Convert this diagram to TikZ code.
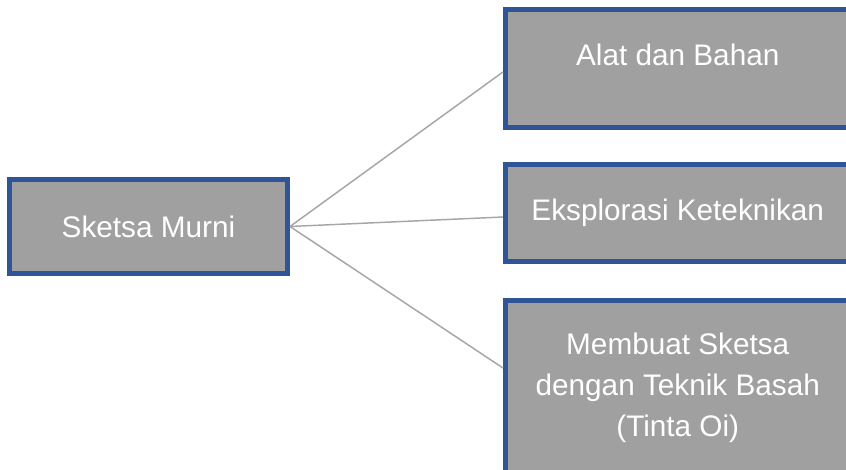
\documentclass[tikz,border=0pt]{standalone}
\usepackage{fontspec}
\setmainfont{Liberation Sans}
\usepackage{tikz}

\definecolor{boxfill}{HTML}{A0A0A0}
\definecolor{boxline}{HTML}{2F5597}
\definecolor{linkgray}{HTML}{A6A6A6}

\begin{document}
\begin{tikzpicture}[x=0.75pt, y=-0.75pt,
    box/.style={rectangle, draw=boxline, fill=boxfill, line width=3.75pt,
      text=white, align=center, inner sep=0pt,
      font=\fontsize{22.3}{31}\selectfont},
    link/.style={draw=linkgray, line width=1.1pt}]
    \useasboundingbox (0,0) rectangle (846,470);
    \node[box, minimum width=208.5pt, minimum height=70.5pt] (murni) at (148.5,226.5) {Sketsa Murni};
    \node[box, minimum width=258.4pt, minimum height=88.5pt] (alat) at (677.75,68.5) {Alat dan Bahan\\[-11pt]};
    \node[box, minimum width=258.4pt, minimum height=72.75pt] (eksplorasi) at (677.75,213) {Eksplorasi Keteknikan};
    \node[box, minimum width=258.4pt, minimum height=130.9pt] (basah) at (677.75,387.75) {Membuat Sketsa\\dengan Teknik Basah\\(Tinta Oi)};
    \draw[link] (murni.east) -- ([yshift=-2.6pt]alat.west);
    \draw[link] (murni.east) -- ([yshift=-3pt]eksplorasi.west);
    \draw[link] (murni.east) -- ([yshift=14.8pt]basah.west);
  \end{tikzpicture}
\end{document}
